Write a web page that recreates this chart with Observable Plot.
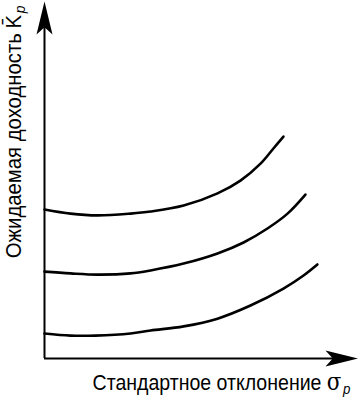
<!DOCTYPE html>
<html><head><meta charset="utf-8">
<script src="https://cdn.jsdelivr.net/npm/d3@7"></script>
<script src="https://cdn.jsdelivr.net/npm/@observablehq/plot@0.6"></script>
<style>
html,body{margin:0;padding:0;background:#fff;}
</style></head><body><div id="chart"></div>
<script>
// Indifference curves: standard deviation (x) vs expected return (y), arbitrary units
const sigma1 = [0, 0.83, 1.69, 2.74, 3.38, 4.43, 5.51, 6.24, 6.88, 7.29, 7.61];
const ret1   = [5.01, 4.87, 4.81, 4.87, 4.94, 5.14, 5.55, 5.98, 6.55, 7.06, 7.46];
const sigma2 = [0, 0.83, 1.69, 2.74, 3.38, 4.43, 5.51, 6.34, 7.10, 7.74, 8.31];
const ret2   = [2.92, 2.86, 2.82, 2.86, 2.96, 3.19, 3.53, 3.90, 4.37, 4.87, 5.51];
const sigma3 = [0, 0.83, 1.62, 2.74, 3.38, 4.43, 5.51, 6.56, 7.61, 8.25, 8.69];
const ret3   = [0.84, 0.77, 0.77, 0.84, 0.94, 1.08, 1.34, 1.78, 2.35, 2.79, 3.16];
const xMax = 10, yMax = 12;
const yLabelMain = "Ожидаемая доходность";
const yLabelSym = "K\u0304";
const xLabelMain = "Стандартное отклонение";
const xLabelSym = "σ";
const subLabel = "p";

const curves = [[sigma1, ret1], [sigma2, ret2], [sigma3, ret3]]
  .flatMap(([xs, ys], k) => xs.map((x, i) => ({curve: k, x, y: ys[i]})));

const arrowShape = {
  draw(ctx, l, r) {
    ctx.moveTo(0, -l);
    ctx.lineTo(r, 0);
    ctx.lineTo(0, -l * 0.22);
    ctx.lineTo(-r, 0);
    ctx.closePath();
  }
};
const font = "'Liberation Sans Narrow', 'Arial Narrow', 'Liberation Sans', Arial, sans-serif";

const plot = Plot.plot({
  width: 358, height: 397,
  marginLeft: 44, marginRight: 0, marginTop: 1, marginBottom: 39,
  x: {domain: [0, xMax], axis: null},
  y: {domain: [0, yMax], axis: null},
  style: {fontFamily: font, background: "#fff"},
  marks: [
    Plot.ruleX([0], {y1: 0, y2: yMax - 0.6, stroke: "#000", strokeWidth: 2}),
    Plot.ruleY([0], {x1: 0, x2: xMax - 0.6, stroke: "#000", strokeWidth: 2}),
    Plot.vector([{x: 0, y: yMax}], {x: "x", y: "y", rotate: 0, anchor: "end", length: 33, r: 8, shape: arrowShape, fill: "#000", stroke: "none"}),
    Plot.vector([{x: xMax, y: 0}], {x: "x", y: "y", rotate: 90, anchor: "end", length: 33, r: 8, shape: arrowShape, fill: "#000", stroke: "none"}),
    Plot.line(curves, {x: "x", y: "y", z: "curve", curve: "catmull-rom", stroke: "#000", strokeWidth: 2.6}),
    Plot.text([yLabelMain], {x: 0, y: yMax, dx: -31, dy: 4, rotate: -90, textAnchor: "end", fontSize: 22, fill: "#000"}),
    Plot.text([xLabelMain], {x: xMax, y: 0, dx: -8, dy: 24, textAnchor: "end", fontSize: 22, fill: "#000"})
  ]
});
document.getElementById("chart").appendChild(plot);

// rich text: overlined K and italic subscript p, condensed horizontally to the narrow face width
d3.select(plot).selectAll("text").each(function() {
  const t = d3.select(this);
  const s = t.text();
  let target = 0;
  if (s === yLabelMain) {
    t.text(null);
    t.append("tspan").text(yLabelMain);
    t.append("tspan").attr("dx", 5).text(yLabelSym);
    t.append("tspan").attr("font-style", "italic").attr("font-size", 15).attr("dx", 2).attr("dy", "0.3em").text(subLabel);
    target = 253;
  } else if (s === xLabelMain) {
    t.text(null);
    t.append("tspan").text(xLabelMain);
    t.append("tspan").attr("font-family", "'DejaVu Serif', serif").attr("font-size", 24).attr("dx", 6).text(xLabelSym);
    t.append("tspan").attr("font-style", "italic").attr("font-size", 15).attr("dx", 2).attr("dy", "0.3em").text(subLabel);
    target = 258;
  }
  if (target) {
    const w = this.getBBox().width;
    const k = target / w;
    const tr = this.getAttribute("transform") || "";
    this.setAttribute("transform", tr + ` scale(${k},1)`);
  }
});
</script></body></html>
